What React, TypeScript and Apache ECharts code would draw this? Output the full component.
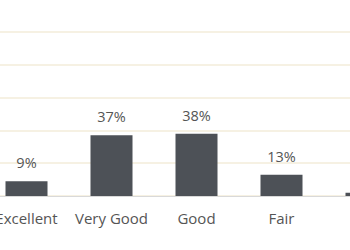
import React, { useEffect, useRef } from "react";
import * as echarts from "echarts";

const categories = ["Excellent", "Very Good", "Good", "Fair", "Poor"];
const values = [9, 37, 38, 13, 2];
const yTicks = [0, 20, 40, 60, 80, 100];

export default function App() {
  const ref = useRef<HTMLDivElement>(null);
  useEffect(() => {
    const chart = echarts.init(ref.current!, undefined, { renderer: "svg" });
    chart.setOption({
      animation: false,
      grid: { left: 0, right: 0, top: 32, bottom: 54, containLabel: false },
      xAxis: {
        type: "category",
        data: categories,
        axisLine: { show: true, lineStyle: { color: "#d9d9d9", width: 1 } },
        axisTick: { show: false },
        axisLabel: { color: "#555", fontSize: 15, fontFamily: "Open Sans", margin: 14, interval: 0 },
      },
      yAxis: {
        type: "value",
        min: yTicks[0],
        max: yTicks[yTicks.length - 1],
        interval: 20,
        axisLabel: { show: false },
        axisLine: { show: false },
        axisTick: { show: false },
        splitLine: { lineStyle: { color: "#f3ecda", width: 1.5 } },
      },
      series: [
        {
          type: "bar",
          data: values,
          barWidth: 42,
          itemStyle: { color: "#4d5157" },
          label: {
            show: true,
            position: "top",
            distance: 11,
            formatter: "{c}%",
            color: "#555",
            fontSize: 14.5,
            fontFamily: "Open Sans",
          },
        },
      ],
    });
    return () => chart.dispose();
  }, []);
  return (
    <div style={{ position: "fixed", left: 0, top: 0, width: 350, height: 250, overflow: "hidden", background: "#fff" }}>
      <div ref={ref} style={{ position: "absolute", left: -16.5, top: 0, width: 425, height: 250 }} />
    </div>
  );
}
